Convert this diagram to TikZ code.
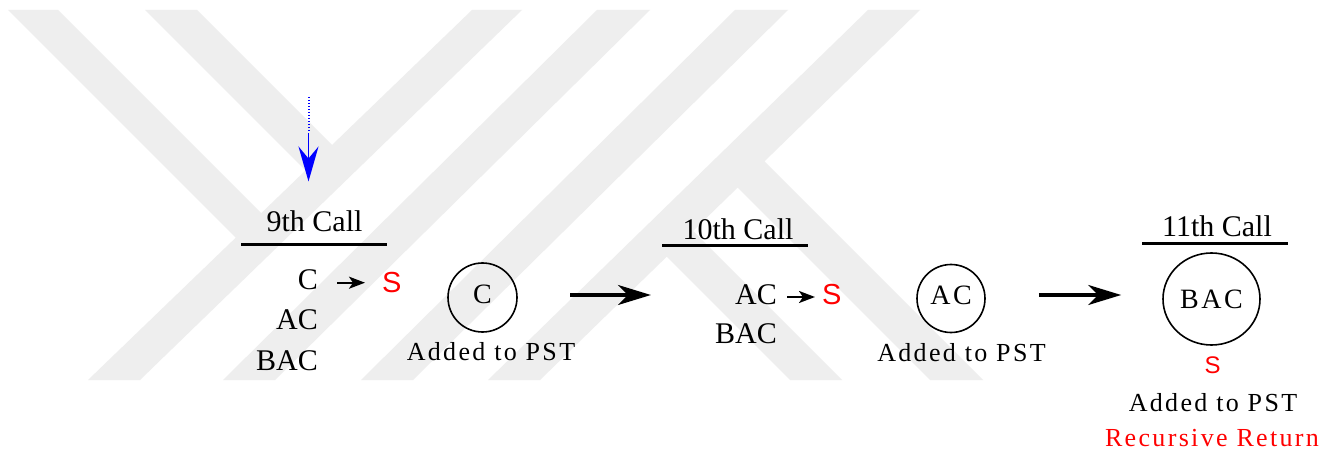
\documentclass[tikz,border=0pt]{standalone}
\usepackage{fontspec}
\setmainfont{Liberation Serif}
\newfontfamily\sansS{Liberation Sans}
\newfontfamily\spacedserif[LetterSpace=9]{Liberation Serif}
\usetikzlibrary{arrows.meta,shapes.geometric}
\definecolor{wmgray}{RGB}{238,238,238}
\begin{document}
\begin{tikzpicture}[x=1pt,y=-1pt,
  wm/.style={fill=wmgray, draw=none},
  calllbl/.style={inner sep=0pt, anchor=base, font=\fontsize{30}{36}\selectfont},
  underl/.style={line width=3pt},
  stackitem/.style={inner sep=0pt, anchor=base east, font=\fontsize{30}{36}\selectfont},
  reds/.style={inner sep=0pt, anchor=base west, text=red, font=\sansS\fontsize{29}{34}\selectfont},
  smallarrow/.style={line width=2.2pt, -{Stealth[length=16pt,width=12pt,inset=4pt]}},
  bigarrow/.style={line width=4pt, -{Stealth[length=33pt,width=20pt,inset=10pt]}},
  pstnode/.style={draw, line width=1.6pt, inner sep=0pt, font=\spacedserif\fontsize{28}{32}\selectfont},
  added/.style={inner sep=0pt, anchor=base, font=\spacedserif\fontsize{26}{30}\selectfont},
  bluedots/.style={blue, line width=2pt, dash pattern=on 1.5pt off 1.5pt},
  bluearrow/.style={blue, line width=1.6pt, -{Stealth[length=35pt,width=20pt,inset=12pt]}}
]
\fill[white] (0,0) rectangle (1326,457);
\useasboundingbox (0,0) rectangle (1326,457);

% watermark
\fill[wm] (8,10) -- (58,10) -- (261.2,213.2) -- (305.5,170.5) -- (145,10) -- (197,10)
  -- (332,145) -- (472,10) -- (522,10) -- (140,380) -- (88,380) -- (235.7,237.7) -- cycle;
\fill[wm] (597,10) -- (650,10) -- (275,380) -- (223,380) -- cycle;
\fill[wm] (735,10) -- (788,10) -- (413,380) -- (361,380) -- cycle;
\fill[wm] (868,10) -- (920,10) -- (764.4,161.4) -- (983,380) -- (930,380) -- (737.6,187.6)
  -- (693,231) -- (842,380) -- (790,380) -- (666.7,256.7) -- (540,380) -- (488,380) -- cycle;

% 9th call
\node[calllbl] (call9) at (314.5,232) {9th Call};
\draw[underl] (241,245) -- (387,245);
\node[stackitem] (c9) at (318,290) {C};
\node[stackitem] (ac9) at (318,330) {AC};
\node[stackitem] (bac9) at (318,370) {BAC};
\node[reds] (s9) at (382,292) {S};
\draw[smallarrow] ([shift={(19,-7.3)}]c9.base east) -- ([shift={(-17,-9.3)}]s9.base west);

\coordinate (b0) at (308.5,97);
\coordinate (b1) at (308.5,133);
\draw[bluedots] (b0) -- (b1);
\draw[bluearrow] (b1) -- ([shift={(-6,-29.5)}]call9.north);

\node[pstnode, circle, minimum size=69pt, text depth=6pt] (cC) at (482.5,297.5) {C};
\node[added] (add1) at (491,360) {Added to PST};

% 10th call
\node[calllbl] (call10) at (738,240) {10th Call};
\draw[underl] (662,246) -- (808,246);
\node[stackitem] (ac10) at (777,305) {AC};
\node[stackitem] (bac10) at (777,343) {BAC};
\node[reds] (s10) at (822,304.5) {S};
\draw[smallarrow] ([shift={(10,-8)}]ac10.base east) -- ([shift={(-7,-7.5)}]s10.base west);

\draw[bigarrow] ([shift={(52.5,-2.5)}]cC.east) -- ([shift={(-84,-10)}]ac10.base west);

\node[pstnode, circle, minimum size=68pt, text depth=6.6pt] (cAC) at (951,298.5) {AC};
\node[added] (add2) at (961.5,361) {Added to PST};

% 11th call
\node[calllbl] (call11) at (1217,237) {11th Call};
\draw[underl] (1142,244) -- (1288,244);

\node[pstnode, ellipse, minimum width=97pt, minimum height=92pt] (cBAC) at (1211.5,299) {BAC};
\draw[bigarrow] ([shift={(53,-3.5)}]cAC.east) -- ([shift={(-41,-4)}]cBAC.west);

\node[inner sep=0pt, anchor=base, text=red, font=\sansS\fontsize{24}{28}\selectfont] (s11) at (1212.5,373) {S};
\node[added] (add3) at (1213,411) {Added to PST};
\node[added, text=red] (rr) at (1212,446) {Recursive Return};
\end{tikzpicture}
\end{document}
